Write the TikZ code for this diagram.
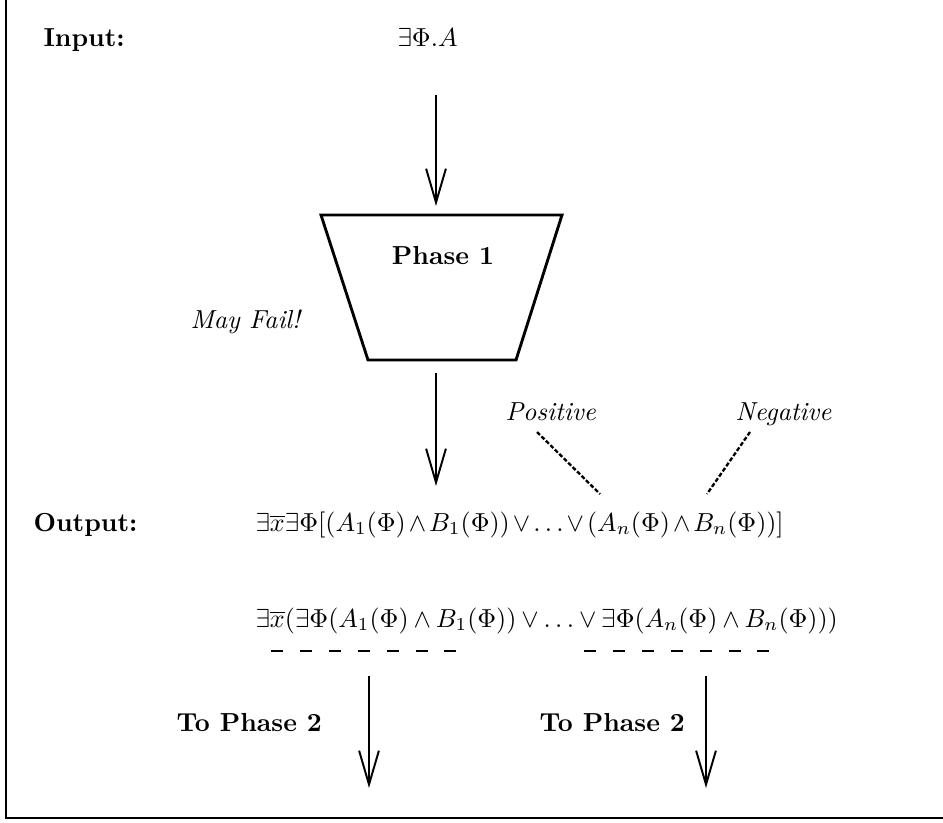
\documentclass[tikz,border=0pt]{standalone}
\usepackage{amsmath,amssymb}
\usetikzlibrary{arrows.meta,positioning,calc}
\tikzset{
  nyil/.style={-{Straight Barb[length=13pt,width=7.6pt]},line width=0.75pt},
  felirat/.style={inner sep=0pt,font=\bfseries},
  kepl/.style={inner sep=0pt},
  pontoz/.style={line width=0.9pt,dash pattern=on 1.6pt off 0.8pt},
  szagg/.style={line width=0.8pt,dash pattern=on 4.6pt off 6.5pt},
  keret/.style={line width=1.1pt},
}

\begin{document}
\begin{tikzpicture}[x=0.384pt,y=-0.384pt]
  \useasboundingbox (0,0) rectangle (943,822);
  % keret
  \draw[keret] (6,-5) -- (6,818) -- (950,818);
  % bemenet
  \node[felirat,anchor=base west] (inp) at (43,47) {Input:};
  \node[kepl,anchor=base west] (inf) at (397,47) {$\exists\Phi.A$};
  \coordinate (a1s) at (436,95);
  \coordinate (a1e) at (436,206);
  \draw[nyil] (a1s) -- (a1e);
  % phase 1
  \coordinate (tl) at (321,215); \coordinate (tr) at (562,215);
  \coordinate (br) at (516,360); \coordinate (bl) at (368,360);
  \draw[line width=1.1pt] (tl) -- (tr) -- (br) -- (bl) -- cycle;
  \node[felirat,anchor=base] (ph1) at (443,264) {Phase 1};
  \node[kepl,anchor=base west,font=\itshape] (fail) at (190,328) {May Fail!};
  \coordinate (a2s) at (436,373);
  \coordinate (a2e) at (436,486);
  \draw[nyil] (a2s) -- (a2e);
  % kimenet
  \node[kepl,anchor=base west,font=\itshape] (pos) at (505,420) {Positive};
  \node[kepl,anchor=base west,font=\itshape] (neg) at (735,420) {Negative};
  \node[felirat,anchor=base west] (outp) at (33,531) {Output:};
  \node[kepl,anchor=base west] (f1) at (255,531)
    {$\medmuskip=2.1mu\exists\overline{x}\exists\Phi[(A_1(\Phi)\wedge B_1(\Phi))\vee\ldots\vee(A_n(\Phi)\wedge B_n(\Phi))]$};
  \coordinate (pe) at (600,494);
  \coordinate (ne) at (707,494);
  \draw[pontoz] (537,432) -- (pe);
  \draw[pontoz] (750,432) -- (ne);
  \node[kepl,anchor=base west] (f2) at (255,627)
    {$\medmuskip=3.4mu\exists\overline{x}(\exists\Phi(A_1(\Phi)\wedge B_1(\Phi))\vee\ldots\vee\exists\Phi(A_n(\Phi)\wedge B_n(\Phi)))$};
  \draw[szagg] (271,651) -- (458,651);
  \draw[szagg] (584,651) -- (771,651);
  % phase 2
  \coordinate (b1s) at (369,676); \coordinate (b1e) at (369,788);
  \coordinate (b2s) at (706,676); \coordinate (b2e) at (706,788);
  \draw[nyil] (b1s) -- (b1e);
  \draw[nyil] (b2s) -- (b2e);
  \node[felirat,anchor=base west] (to1) at (176,731) {To Phase 2};
  \node[felirat,anchor=base west] (to2) at (539,731) {To Phase 2};
\end{tikzpicture}
\end{document}
